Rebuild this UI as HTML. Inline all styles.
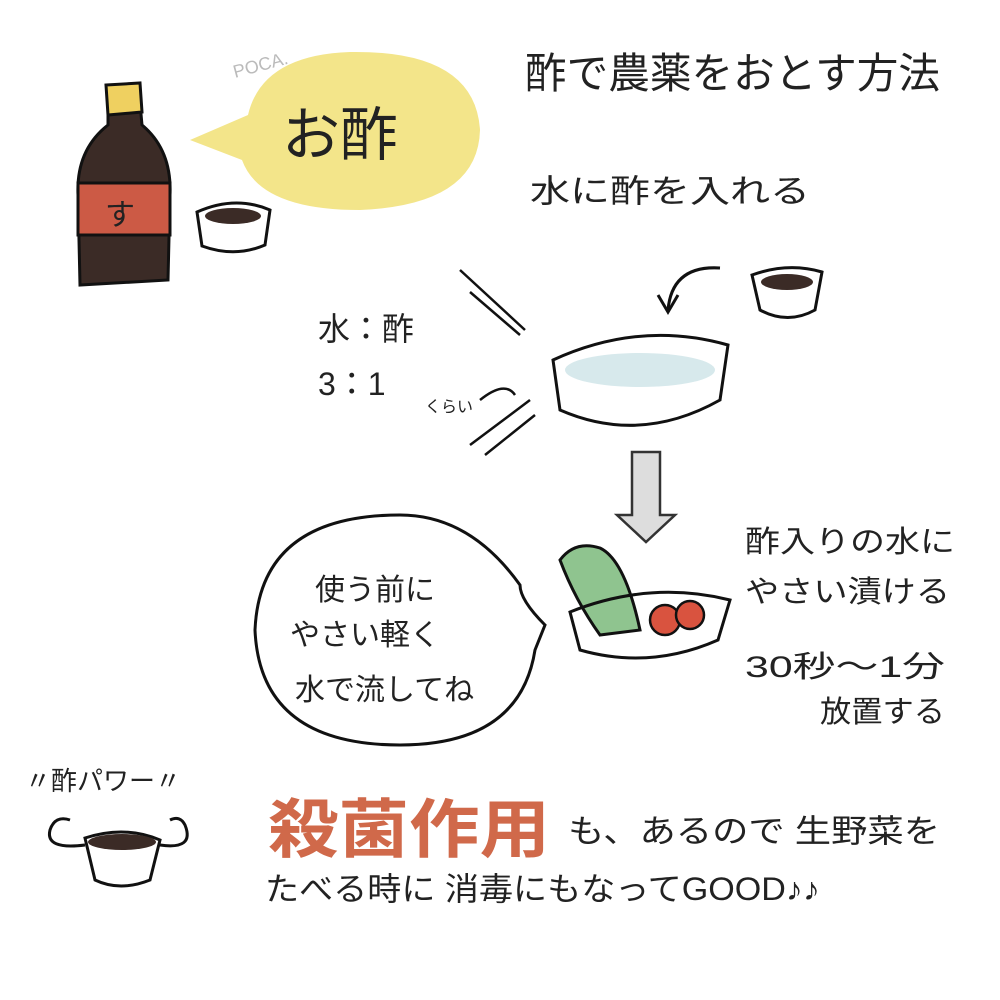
<!DOCTYPE html>
<html><head><meta charset="utf-8"><style>
html,body{margin:0;padding:0;background:#fff;width:1000px;height:1000px;overflow:hidden}
text{font-family:"Liberation Sans","Noto Sans CJK JP",sans-serif;fill:#222}
</style></head><body>
<svg width="1000" height="1000" viewBox="0 0 1000 1000" xmlns="http://www.w3.org/2000/svg">
<rect width="1000" height="1000" fill="#fff"/>
<!-- bottle -->
<path d="M108 105 L140 103 L142 125 Q172 150 170 195 L168 280 L80 285 L78 195 Q76 150 108 125 Z" fill="#3b2b26" stroke="#111" stroke-width="3"/>
<path d="M106 85 L140 83 L142 112 L108 115 Z" fill="#efd060" stroke="#111" stroke-width="3"/>
<rect x="78" y="183" width="92" height="52" fill="#cc5a45" stroke="#111" stroke-width="3"/>
<text x="105" y="225" font-size="30">す</text>
<!-- cup -->
<path d="M197 212 Q235 195 270 210 L265 245 Q235 258 202 246 Z" fill="#fff" stroke="#111" stroke-width="3"/>
<ellipse cx="233" cy="216" rx="28" ry="8" fill="#3b2b26"/>
<!-- yellow bubble -->
<path d="M190 140 L248 115 Q262 55 350 52 Q475 50 480 130 Q478 205 360 210 Q260 210 242 160 Z" fill="#f3e58a"/>
<text x="282" y="155" font-size="58">お酢</text>
<text x="235" y="78" font-size="18" style="fill:#bbb" transform="rotate(-15 235 78)">POCA.</text>
<!-- title -->
<text x="525" y="88" font-size="42" textLength="415" lengthAdjust="spacingAndGlyphs">酢で農薬をおとす方法</text>
<text x="530" y="202" font-size="32" textLength="280" lengthAdjust="spacingAndGlyphs">水に酢を入れる</text>
<!-- curved arrow -->
<path d="M720 268 Q672 265 668 310" fill="none" stroke="#111" stroke-width="3"/>
<path d="M658 295 L668 312 L678 295" fill="none" stroke="#111" stroke-width="3"/>
<!-- small cup 2 -->
<path d="M752 275 Q788 262 822 272 L815 310 Q788 325 760 310 Z" fill="#fff" stroke="#111" stroke-width="3"/>
<ellipse cx="787" cy="282" rx="26" ry="8" fill="#3b2b26"/>
<!-- bowl -->
<path d="M553 360 Q640 320 728 345 L720 400 Q640 445 560 410 Z" fill="#fff" stroke="#111" stroke-width="3"/>
<ellipse cx="640" cy="370" rx="75" ry="17" fill="#d7e9ec"/>
<!-- ratio -->
<text x="318" y="340" font-size="32">水：酢</text>
<text x="318" y="395" font-size="32">3：1</text>
<text x="425" y="412" font-size="16">くらい</text>
<g stroke="#111" stroke-width="2.5" fill="none">
<line x1="460" y1="270" x2="525" y2="330"/><line x1="470" y1="292" x2="520" y2="335"/>
<line x1="470" y1="445" x2="530" y2="400"/><line x1="485" y1="455" x2="535" y2="415"/>
<path d="M480 400 Q505 380 515 395"/>
</g>
<!-- down arrow -->
<path d="M632 452 L660 452 L660 515 L675 515 L646 542 L617 515 L632 515 Z" fill="#ddd" stroke="#333" stroke-width="2.5"/>
<!-- outline bubble -->
<path d="M545 625 Q520 600 520 585 Q470 515 400 515 Q260 515 255 630 Q260 745 400 745 Q520 745 535 650 Z" fill="#fff" stroke="#111" stroke-width="3"/>
<text x="315" y="600" font-size="30">使う前に</text>
<text x="290" y="645" font-size="30">やさい軽く</text>
<text x="295" y="700" font-size="30">水で流してね</text>
<!-- veg bowl -->
<path d="M560 560 Q575 540 600 548 Q625 560 640 630 L600 635 Q575 600 560 560Z" fill="#8fc48f" stroke="#111" stroke-width="3"/>
<circle cx="665" cy="620" r="15" fill="#d9533f" stroke="#111" stroke-width="2.5"/>
<circle cx="690" cy="615" r="14" fill="#d9533f" stroke="#111" stroke-width="2.5"/>
<path d="M570 612 Q650 580 730 600 L718 640 Q650 670 580 650 Z" fill="none" stroke="#111" stroke-width="3"/>
<text x="745" y="552" font-size="30" textLength="210" lengthAdjust="spacingAndGlyphs">酢入りの水に</text>
<text x="745" y="602" font-size="30" textLength="205" lengthAdjust="spacingAndGlyphs">やさい漬ける</text>
<text x="745" y="677" font-size="30" textLength="200" lengthAdjust="spacingAndGlyphs">30秒～1分</text>
<text x="820" y="722" font-size="30" textLength="125" lengthAdjust="spacingAndGlyphs">放置する</text>
<!-- power cup -->
<text x="25" y="790" font-size="26">〃酢パワー〃</text>
<path d="M85 838 Q125 825 160 840 L150 880 Q120 892 95 880 Z" fill="#fff" stroke="#111" stroke-width="3"/>
<ellipse cx="122" cy="842" rx="34" ry="8" fill="#3b2b26"/>
<path d="M85 845 Q45 850 50 830 Q55 815 70 820" fill="none" stroke="#111" stroke-width="3"/>
<path d="M160 845 Q195 850 185 825 Q180 815 170 820" fill="none" stroke="#111" stroke-width="3"/>
<!-- bottom text -->
<text x="268" y="852" font-size="64" style="fill:#d0694a" font-weight="bold" textLength="282" lengthAdjust="spacingAndGlyphs">殺菌作用</text>
<text x="568" y="842" font-size="32" textLength="372" lengthAdjust="spacingAndGlyphs">も、あるので 生野菜を</text>
<text x="265" y="900" font-size="32" textLength="555" lengthAdjust="spacingAndGlyphs">たべる時に 消毒にもなってGOOD♪♪</text>
</svg>
</body></html>
